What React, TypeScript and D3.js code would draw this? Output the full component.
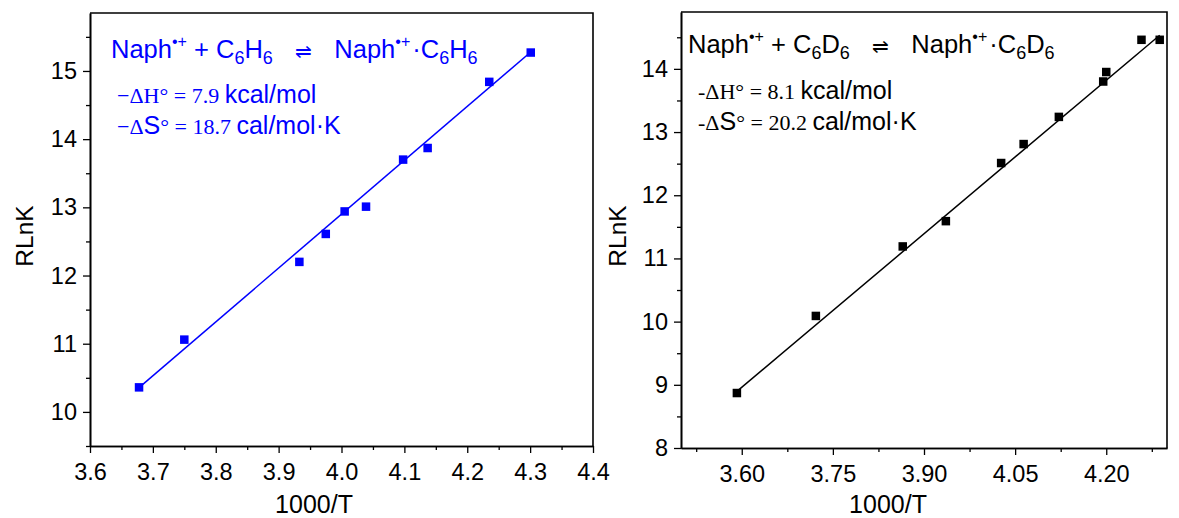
import React, { useEffect, useRef } from 'react';
import * as d3 from 'd3';

// Naph.+ + C6H6 (left panel, blue)
const benzeneX = [3.678, 3.75, 3.933, 3.975, 4.005, 4.039, 4.098, 4.137, 4.235, 4.301];
const benzeneY = [10.36, 11.06, 12.2, 12.61, 12.94, 13.01, 13.7, 13.87, 14.84, 15.27];
// linear fit: slope = -dH (kcal/mol), intercept = dS (cal/mol K)
const benzeneFit = [7.9, -18.7];

// Naph.+ + C6D6 (right panel, black)
const deuteroX = [3.592, 3.722, 3.865, 3.936, 4.027, 4.064, 4.122, 4.195, 4.2, 4.258, 4.288];
const deuteroY = [8.87, 10.09, 11.19, 11.59, 12.51, 12.81, 13.24, 13.8, 13.95, 14.46, 14.46];
const deuteroFit = [8.1, -20.2];

const leftXTicks = [3.6, 3.7, 3.8, 3.9, 4.0, 4.1, 4.2, 4.3, 4.4];
const leftXMinor = [3.65, 3.75, 3.85, 3.95, 4.05, 4.15, 4.25, 4.35];
const leftYTicks = [10, 11, 12, 13, 14, 15];
const leftYMinor = [9.5, 10.5, 11.5, 12.5, 13.5, 14.5, 15.5];

const rightXTicks = [3.6, 3.75, 3.9, 4.05, 4.2];
const rightXMinor = [3.525, 3.675, 3.825, 3.975, 4.125, 4.275];
const rightYTicks = [8, 9, 10, 11, 12, 13, 14];
const rightYMinor = [8.5, 9.5, 10.5, 11.5, 12.5, 13.5, 14.5];

const SANS = '"Liberation Sans", Arial, sans-serif';
const SERIF = '"Liberation Serif", "Times New Roman", serif';

function Panel({ xs, ys, fit, xDomain, yDomain, xRange, yRange, xTicks, xMinor, yTicks, yMinor, xFmt, color, yTitleX, xTitleX, children }: any) {
  const gx = useRef<SVGGElement>(null);
  const gy = useRef<SVGGElement>(null);
  const x = d3.scaleLinear().domain(xDomain).range(xRange);
  const y = d3.scaleLinear().domain(yDomain).range(yRange);

  useEffect(() => {
    const ax = d3.select(gx.current);
    ax.selectAll('*').remove();
    ax.append('g').call(d3.axisBottom(x).tickValues(xMinor).tickSize(4).tickSizeOuter(0).tickFormat(() => ''));
    ax.append('g').call(d3.axisBottom(x).tickValues(xTicks).tickSize(7).tickSizeOuter(0).tickPadding(10).tickFormat(d3.format(xFmt)));
    const ay = d3.select(gy.current);
    ay.selectAll('*').remove();
    ay.append('g').call(d3.axisLeft(y).tickValues(yMinor).tickSize(4).tickSizeOuter(0).tickFormat(() => ''));
    ay.append('g').call(d3.axisLeft(y).tickValues(yTicks).tickSize(7).tickSizeOuter(0).tickPadding(6).tickFormat(d3.format('d')));
    [ax, ay].forEach((a) => {
      a.selectAll('.domain').attr('stroke', '#000').attr('stroke-width', 1.6);
      a.selectAll('.tick line').attr('stroke', '#000').attr('stroke-width', 1.3);
      a.selectAll('.tick text').attr('font-size', 23.5).attr('font-family', SANS).attr('fill', '#000');
    });
  });

  const x0 = d3.min(xs) as number;
  const x1 = d3.max(xs) as number;
  const fitLine = d3.line<number>().x((v) => x(v)).y((v) => y(fit[0] * v + fit[1]));
  const s = 8.5;

  return (
    <g>
      <path d={`M${xRange[0]},${yRange[1]}H${xRange[1]}V${yRange[0]}`} fill="none" stroke="#000" strokeWidth={1.6} />
      <g ref={gx} transform={`translate(0,${yRange[0]})`} />
      <g ref={gy} transform={`translate(${xRange[0]},0)`} />
      <path d={fitLine([x0, x1]) || ''} fill="none" stroke={color} strokeWidth={1.5} />
      {xs.map((v: number, i: number) => (
        <rect key={i} x={x(v) - s / 2} y={y(ys[i]) - s / 2} width={s} height={s} fill={color} />
      ))}
      <text transform={`translate(${yTitleX},236) rotate(-90)`} textAnchor="middle" fontSize={24.5} fontFamily={SANS}>RLnK</text>
      <text x={xTitleX} y={513} textAnchor="middle" fontSize={25} fontFamily={SANS}>1000/T</text>
      {children}
    </g>
  );
}

function Reaction({ x, y, color, solvent }: any) {
  return (
    <text x={x} y={y} fill={color} fontSize={25.5} fontFamily={SANS} style={{ whiteSpace: 'pre' }}>
      Naph<tspan fontSize={16} dy={-11}>•+</tspan>
      <tspan dy={11}> + C</tspan>
      <tspan fontSize={18} dy={6}>6</tspan>
      <tspan dy={-6}>{solvent}</tspan>
      <tspan fontSize={18} dy={6}>6</tspan>
      <tspan dy={-6} fontSize={20}>{'    ⇌    '}</tspan>
      <tspan fontSize={25.5}>Naph</tspan>
      <tspan fontSize={16} dy={-11}>•+</tspan>
      <tspan dy={11} dx={2}>·C</tspan>
      <tspan fontSize={18} dy={6}>6</tspan>
      <tspan dy={-6}>{solvent}</tspan>
      <tspan fontSize={18} dy={6}>6</tspan>
    </text>
  );
}

function Thermo({ x, y, color, minus, dH, dS }: any) {
  return (
    <g fill={color} style={{ whiteSpace: 'pre' }}>
      <text x={x} y={y}>
        <tspan fontFamily={SERIF} fontSize={22}>{`${minus}ΔH° = ${dH} `}</tspan>
        <tspan fontFamily={SANS} fontSize={25}>kcal/mol</tspan>
      </text>
      <text x={x} y={y + 31}>
        <tspan fontFamily={SERIF} fontSize={22}>{`${minus}Δ`}</tspan>
        <tspan fontFamily={SANS} fontSize={25}>S</tspan>
        <tspan fontFamily={SERIF} fontSize={22}>{`° = ${dS} `}</tspan>
        <tspan fontFamily={SANS} fontSize={25}>cal/mol·K</tspan>
      </text>
    </g>
  );
}

export default function App() {
  const blue = '#0000ff';
  return (
    <svg width={1179} height={518} style={{ position: 'absolute', left: 0, top: 0, background: '#fff' }}>
      <Panel
        xs={benzeneX} ys={benzeneY} fit={benzeneFit}
        xDomain={[3.6, 4.4]} yDomain={[9.5, 15.85]} xRange={[90, 593]} yRange={[446, 13]}
        xTicks={leftXTicks} xMinor={leftXMinor} yTicks={leftYTicks} yMinor={leftYMinor}
        xFmt=".1f" color={blue} yTitleX={33} xTitleX={314}
      >
        <Reaction x={111} y={58} color={blue} solvent="H" />
        <Thermo x={117} y={103} color={blue} minus="−" dH="7.9" dS="18.7" />
      </Panel>
      <Panel
        xs={deuteroX} ys={deuteroY} fit={deuteroFit}
        xDomain={[3.5, 4.3]} yDomain={[8, 14.9]} xRange={[681, 1167]} yRange={[448, 12]}
        xTicks={rightXTicks} xMinor={rightXMinor} yTicks={rightYTicks} yMinor={rightYMinor}
        xFmt=".2f" color="#000" yTitleX={626} xTitleX={888}
      >
        <Reaction x={688} y={53} color="#000" solvent="D" />
        <Thermo x={698} y={99} color="#000" minus="-" dH="8.1" dS="20.2" />
      </Panel>
    </svg>
  );
}
